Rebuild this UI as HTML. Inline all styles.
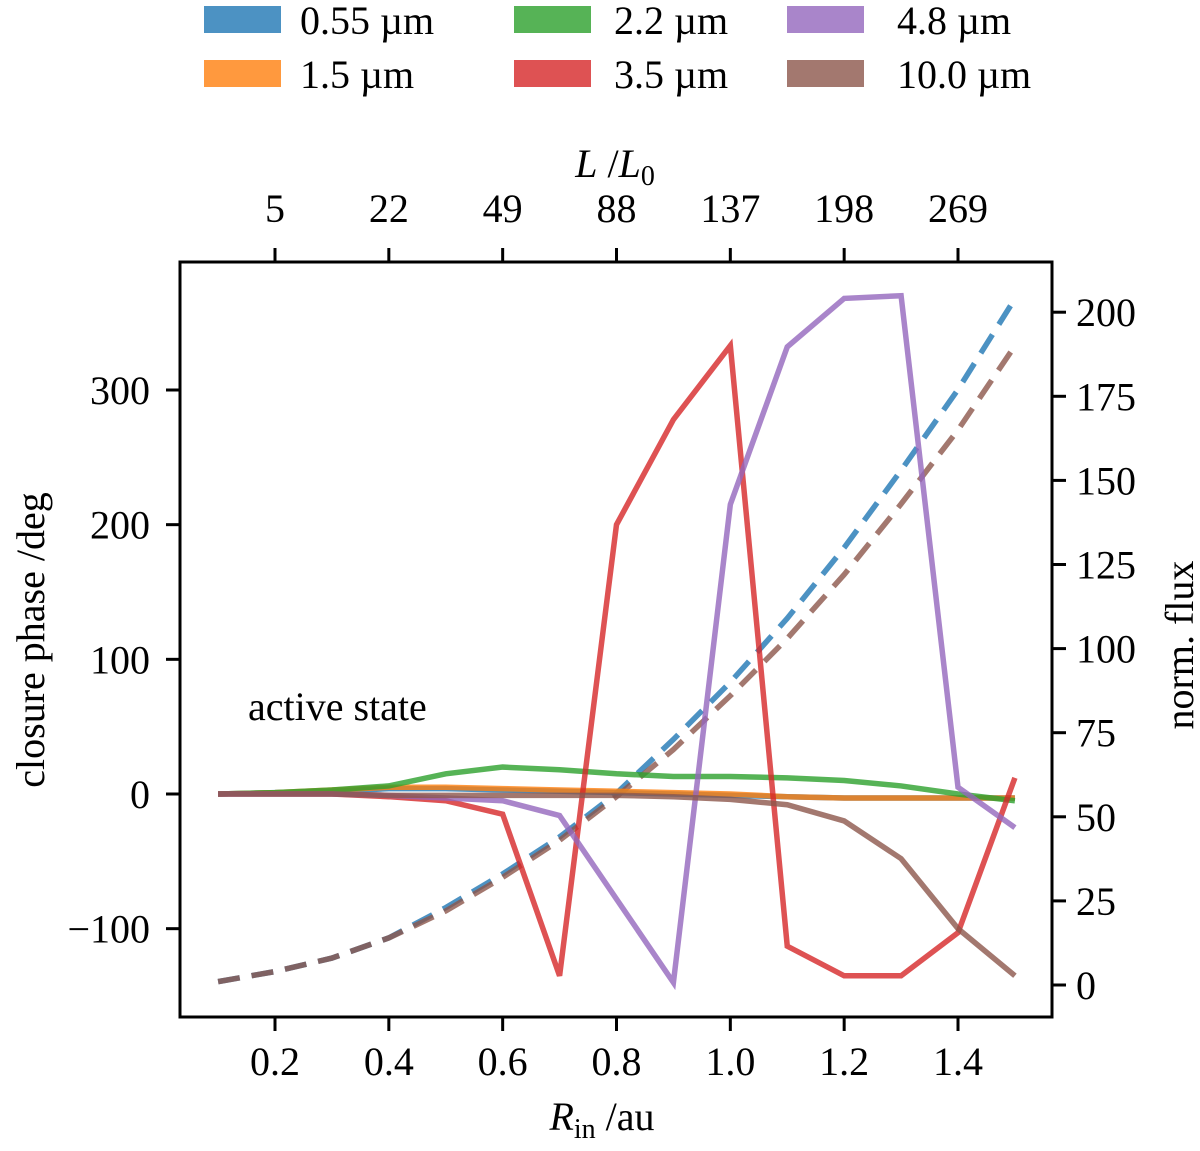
<!DOCTYPE html>
<html><head><meta charset="utf-8"><style>
body{margin:0;background:#fff}
svg text{font-family:"Liberation Serif",serif;fill:#000}
</style></head><body>
<svg id="chart" width="1200" height="1146" viewBox="0 0 1200 1146" xmlns="http://www.w3.org/2000/svg">
<g id="legend"></g>
<g id="plot"></g>
<g id="axes"></g>
</svg>
<script>
const radii=[0.1,0.2,0.3,0.4,0.5,0.6,0.7,0.8,0.9,1.0,1.1,1.2,1.3,1.4,1.5];
const cp055=[0,1,2,4,4,3,2,1,0,-1,-2,-3,-3,-3,-3];
const cp15=[0,1,3,5,5,4,3,2,1,0,-2,-3,-3,-3,-3];
const cp22=[0,1,3,6,15,20,18,15,13,13,12,10,6,0,-5];
const cp35=[0,0,0,-2,-5,-15,-135,200,278,333,-113,-135,-135,-103,12];
const cp48=[0,0,0,-1,-3,-5,-16,-78,-140,215,332,368,370,5,-25];
const cp100=[0,0,0,-1,-1,-1,-1,-1,-2,-4,-8,-20,-48,-100,-135];
const flux055=[1,4,8,14,23,33,44,57,73,90,109,130,153,177,204];
const flux100=[1,4,8,14,22,32,43,56,70,86,103,122,143,165,190];
const xTicks=[0.2,0.4,0.6,0.8,1.0,1.2,1.4];
const xTickLabels=["0.2","0.4","0.6","0.8","1.0","1.2","1.4"];
const topTickLabels=["5","22","49","88","137","198","269"];
const yTicks=[-100,0,100,200,300];
const yTickLabels=["\u2212100","0","100","200","300"];
const y2Ticks=[0,25,50,75,100,125,150,175,200];
const legendLabels=["0.55 \u00b5m","1.5 \u00b5m","2.2 \u00b5m","3.5 \u00b5m","4.8 \u00b5m","10.0 \u00b5m"];
const colors=["#1f77b4","#ff7f0e","#2ca02c","#d62728","#9467bd","#8c564b"];

const L=180,R=1052,T=262,B=1017;
const X=v=>275+(v-0.2)*(958-275)/1.2;
const Y=v=>794-v*1.3467;
const Y2=v=>985-v*3.364;
const NS="http://www.w3.org/2000/svg";
const FS=40;
function mk(tag,attrs,parent){const e=document.createElementNS(NS,tag);for(const k in attrs)e.setAttribute(k,attrs[k]);parent.appendChild(e);return e;}
const plot=document.getElementById('plot'),axes=document.getElementById('axes'),legend=document.getElementById('legend');

[[flux055,0,'flux-line-0.55um'],[flux100,5,'flux-line-10um']].forEach(([d,c,n])=>{
 const p=mk('polyline',{points:radii.map((r,i)=>X(r)+','+Y2(d[i])).join(' '),fill:'none',stroke:colors[c],'stroke-width':5.5,'stroke-opacity':0.8,'stroke-dasharray':'22 12'},plot);
 
 
});
const series=[[cp055,0,'cp-line-0.55um'],[cp15,1,'cp-line-1.5um'],[cp22,2,'cp-line-2.2um'],[cp35,3,'cp-line-3.5um'],[cp48,4,'cp-line-4.8um'],[cp100,5,'cp-line-10um']];
series.forEach(([d,c,n])=>{
 const p=mk('polyline',{points:radii.map((r,i)=>X(r)+','+Y(d[i])).join(' '),fill:'none',stroke:colors[c],'stroke-width':5.5,'stroke-opacity':0.8},plot);
 
 
});
const at=mk('text',{x:248,y:720,'font-size':FS},plot);at.textContent='active state';



const fr=mk('rect',{x:L,y:T,width:R-L,height:B-T,fill:'none',stroke:'#000','stroke-width':3},axes);


xTicks.forEach((v,i)=>{
 mk('line',{x1:X(v),x2:X(v),y1:B,y2:B+14,stroke:'#000','stroke-width':3},axes);
 mk('line',{x1:X(v),x2:X(v),y1:T,y2:T-14,stroke:'#000','stroke-width':3},axes);
 const t=mk('text',{x:X(v),y:1075,'text-anchor':'middle','font-size':FS},axes);t.textContent=xTickLabels[i];
 
 
 const t2=mk('text',{x:X(v),y:222,'text-anchor':'middle','font-size':FS},axes);t2.textContent=topTickLabels[i];
 
 
});
yTicks.forEach((v,i)=>{
 mk('line',{x1:L,x2:L-14,y1:Y(v),y2:Y(v),stroke:'#000','stroke-width':3},axes);
 const t=mk('text',{x:L-30,y:Y(v)+14,'text-anchor':'end','font-size':FS},axes);t.textContent=yTickLabels[i];
 
 
});
y2Ticks.forEach(v=>{
 mk('line',{x1:R,x2:R+14,y1:Y2(v),y2:Y2(v),stroke:'#000','stroke-width':3},axes);
 const t=mk('text',{x:R+24,y:Y2(v)+14,'font-size':FS},axes);t.textContent=String(v);
 
 
});
const xt=mk('text',{x:602,y:1130,'text-anchor':'middle','font-size':FS},axes);
xt.innerHTML='<tspan font-style="italic">R</tspan><tspan font-size="28" dy="8">in</tspan><tspan dy="-8"> /au</tspan>';


const tt=mk('text',{x:615,y:177,'text-anchor':'middle','font-size':FS},axes);
tt.innerHTML='<tspan font-style="italic">L</tspan> /<tspan font-style="italic">L</tspan><tspan font-size="28" dy="8">0</tspan>';


const yt=mk('text',{x:0,y:0,'text-anchor':'middle','font-size':FS,transform:'translate(44,640) rotate(-90)'},axes);
yt.textContent='closure phase /deg';


const y2t=mk('text',{x:0,y:0,'text-anchor':'middle','font-size':FS,transform:'translate(1193,645) rotate(-90)'},axes);
y2t.textContent='norm. flux';


const lx=[204,514,787],tx=[300,614,897],ly=[6,60];
const order=[0,2,4,1,3,5];
order.forEach((si,k)=>{
 const col=k%3,row=Math.floor(k/3);
 const g=mk('g',{},legend);
 
 
 mk('rect',{x:lx[col],y:ly[row],width:77,height:27,fill:colors[si],'fill-opacity':0.8},g);
 const t=mk('text',{x:tx[col],y:ly[row]+28,'font-size':FS},g);t.textContent=legendLabels[si];
});
</script>
</body></html>
